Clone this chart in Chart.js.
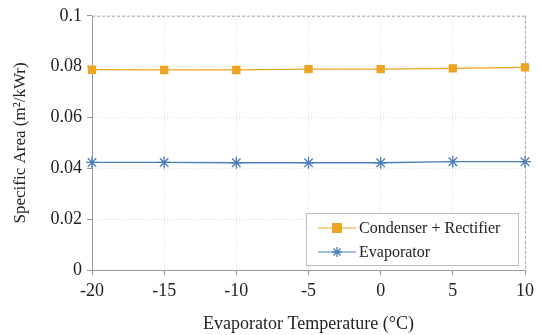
<!DOCTYPE html>
<html>
<head>
<meta charset="utf-8">
<script src="https://cdn.jsdelivr.net/npm/chart.js@4/dist/chart.umd.min.js"></script>
<style>
  html, body { margin: 0; padding: 0; background: #fff; }
</style>
</head>
<body>
<canvas id="chart" width="539" height="335"></canvas>
<script>
// data
var temps = [-20, -15, -10, -5, 0, 5, 10];
var condenser = [0.0788, 0.0787, 0.0787, 0.0790, 0.0790, 0.0793, 0.0797];
var evaporator = [0.0423, 0.0423, 0.0422, 0.0422, 0.0422, 0.0426, 0.0426];
var yTicks = [0, 0.02, 0.04, 0.06, 0.08, 0.1];
var seriesNames = ["Condenser + Rectifier", "Evaporator"];

var orange = '#EBA520';
var blue = '#4A7EBB';
var serif = "'Liberation Serif', 'DejaVu Serif', serif";

function pts(vals) {
    return temps.map(function(t, i) { return { x: t, y: vals[i] }; });
}

// legend box drawn inside the plot, bottom right
var boxLegend = {
    id: 'boxLegend',
    afterDraw: function(chart) {
        var c = chart.ctx;
        var x0 = 306, y0 = 213, w = 212, h = 52;
        c.save();
        c.fillStyle = '#fff';
        c.fillRect(x0, y0, w, h);
        c.strokeStyle = '#bbb';
        c.lineWidth = 1;
        c.strokeRect(x0 + 0.5, y0 + 0.5, w, h);
        c.font = "16px " + serif;
        c.textBaseline = 'middle';
        chart.data.datasets.forEach(function(ds, i) {
            var cy = y0 + 15 + i * 24;
            c.strokeStyle = ds.borderColor;
            c.lineWidth = 1.2;
            c.beginPath();
            c.moveTo(x0 + 12, cy);
            c.lineTo(x0 + 50, cy);
            c.stroke();
            var mx = x0 + 31;
            if (ds.pointStyle === 'rect') {
                c.fillStyle = ds.pointBackgroundColor;
                c.fillRect(mx - 5, cy - 5, 10, 10);
            } else {
                c.lineWidth = 1.3;
                var r = 5;
                c.beginPath();
                c.moveTo(mx - r, cy); c.lineTo(mx + r, cy);
                c.moveTo(mx, cy - r); c.lineTo(mx, cy + r);
                c.moveTo(mx - r * 0.7, cy - r * 0.7); c.lineTo(mx + r * 0.7, cy + r * 0.7);
                c.moveTo(mx - r * 0.7, cy + r * 0.7); c.lineTo(mx + r * 0.7, cy - r * 0.7);
                c.stroke();
            }
            c.fillStyle = '#222';
            c.fillText(ds.label, x0 + 53, cy + 1);
        });
        c.restore();
    }
};

// dashed frame on top and right, solid axes left and bottom
var frame = {
    id: 'frame',
    beforeDatasetsDraw: function(chart) {
        var c = chart.ctx, a = chart.chartArea;
        c.save();
        c.strokeStyle = '#aaa';
        c.lineWidth = 1;
        c.setLineDash([3, 2]);
        c.beginPath();
        c.moveTo(a.left, a.top + 0.5); c.lineTo(a.right, a.top + 0.5);
        c.moveTo(a.right + 0.5, a.top); c.lineTo(a.right + 0.5, a.bottom);
        c.stroke();
        c.setLineDash([]);
        c.strokeStyle = '#999';
        c.beginPath();
        c.moveTo(a.left + 0.5, a.top); c.lineTo(a.left + 0.5, a.bottom + 5);
        c.moveTo(a.left - 5, a.bottom + 0.5); c.lineTo(a.right, a.bottom + 0.5);
        c.stroke();
        c.restore();
    }
};

new Chart(document.getElementById('chart'), {
    type: 'line',
    data: {
        datasets: [{
            label: seriesNames[0],
            data: pts(condenser),
            borderColor: orange,
            backgroundColor: orange,
            pointBackgroundColor: orange,
            pointBorderColor: orange,
            pointStyle: 'rect',
            pointRadius: 5,
            borderWidth: 1.3
        }, {
            label: seriesNames[1],
            data: pts(evaporator),
            borderColor: blue,
            backgroundColor: blue,
            pointBackgroundColor: blue,
            pointBorderColor: blue,
            pointStyle: 'star',
            pointRadius: 6,
            pointBorderWidth: 1.3,
            borderWidth: 1.3
        }]
    },
    options: {
        responsive: false,
        animation: false,
        clip: false,
        layout: { padding: { top: 14, right: 13, bottom: 0, left: 10 } },
        plugins: { legend: { display: false }, tooltip: { enabled: false } },
        scales: {
            x: {
                type: 'linear',
                min: -20, max: 10,
                afterBuildTicks: function(s) { s.ticks = temps.map(function(v) { return { value: v }; }); },
                afterFit: function(s) { s.height = 65; },
                grid: { color: '#dedede', lineWidth: 1, drawTicks: true, tickLength: 5, tickColor: '#999' },
                border: { display: false, dash: [1, 2] },
                ticks: { color: '#222', font: { family: serif, size: 18 }, padding: 5 },
                title: { display: true, text: 'Evaporator Temperature (°C)', color: '#222',
                         font: { family: serif, size: 18 }, padding: { top: 0, bottom: 0 } }
            },
            y: {
                min: 0, max: 0.1,
                afterBuildTicks: function(s) { s.ticks = yTicks.map(function(v) { return { value: v }; }); },
                afterFit: function(s) { s.width = 82; },
                grid: { color: '#dedede', lineWidth: 1, tickLength: 5, tickColor: '#999' },
                border: { display: false, dash: [1, 2] },
                ticks: { color: '#222', font: { family: serif, size: 18 }, padding: 5,
                         callback: function(v) { return String(+v.toFixed(2)); } },
                title: { display: true, text: 'Specific Area (m²/kWr)', color: '#222',
                         font: { family: serif, size: 17 }, padding: { top: 0, bottom: 0 } }
            }
        }
    },
    plugins: [frame, boxLegend]
});
</script>
</body>
</html>
